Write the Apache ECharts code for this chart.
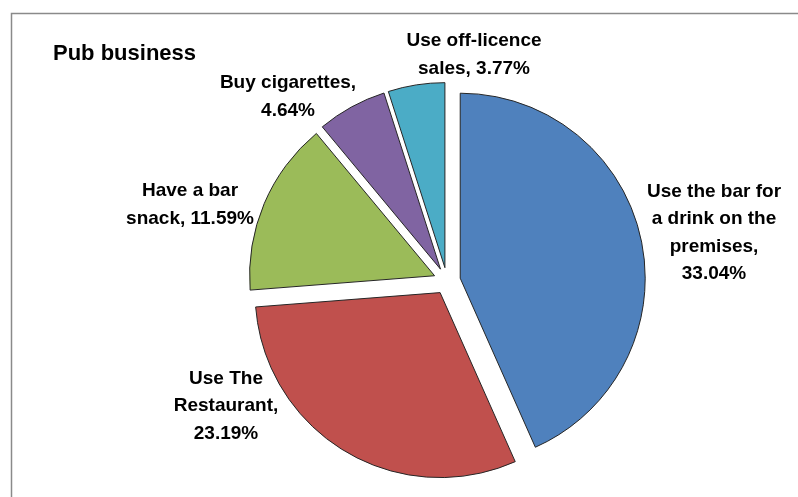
<!DOCTYPE html>
<html><head><meta charset="utf-8">
<script src="https://cdn.jsdelivr.net/npm/echarts@6/dist/echarts.min.js"></script>
<style>html,body{margin:0;padding:0;background:#fff}#c{width:798px;height:497px}</style>
</head><body><div id="c"></div>
<script>
const categories = ["Use the bar for a drink on the premises", "Use The Restaurant", "Have a bar snack", "Buy cigarettes", "Use off-licence sales"];
const labelTexts = ["Use the bar for\na drink on the\npremises,\n33.04%", "Use The\nRestaurant,\n23.19%", "Have a bar\nsnack, 11.59%", "Buy cigarettes,\n4.64%", "Use off-licence\nsales, 3.77%"];
const values = [33.04, 23.19, 11.59, 4.64, 3.77];
const colors = ["#4F81BD", "#C0504D", "#9BBB59", "#8064A2", "#4BACC6"];
const labelCenters = [[714, 233], [226, 406], [190, 205], [288, 97], [474, 55]];

const labelFont = {fontFamily: 'Liberation Sans', fontWeight: 'bold', fontSize: 19, fill: '#000', align: 'center', verticalAlign: 'middle', lineHeight: 27.5};

const chart = echarts.init(document.getElementById('c'), null, {renderer: 'canvas'});
chart.setOption({
  animation: false,
  backgroundColor: '#fff',
  title: {
    text: 'Pub business', left: 53, top: 43, padding: 0,
    textStyle: {fontFamily: 'Liberation Sans', fontWeight: 'bold', fontSize: 22, color: '#000'}
  },
  graphic: [{
    type: 'rect', silent: true,
    shape: {x: 11.5, y: 13.5, width: 900, height: 600},
    style: {fill: 'none', stroke: '#8a8a8a', lineWidth: 1.5}
  }].concat(labelTexts.map((t, i) => ({
    type: 'text', silent: true,
    x: labelCenters[i][0], y: labelCenters[i][1],
    style: Object.assign({text: t}, labelFont)
  }))),
  series: [{
    type: 'pie',
    center: [447, 281],
    radius: 185,
    startAngle: 90,
    clockwise: true,
    selectedMode: 'multiple',
    selectedOffset: 13.5,
    itemStyle: {borderColor: '#262626', borderWidth: 1},
    emphasis: {disabled: true},
    label: {show: false},
    labelLine: {show: false},
    data: categories.map((c, i) => ({name: c, value: values[i], selected: true, itemStyle: {color: colors[i]}}))
  }]
});
</script></body></html>
